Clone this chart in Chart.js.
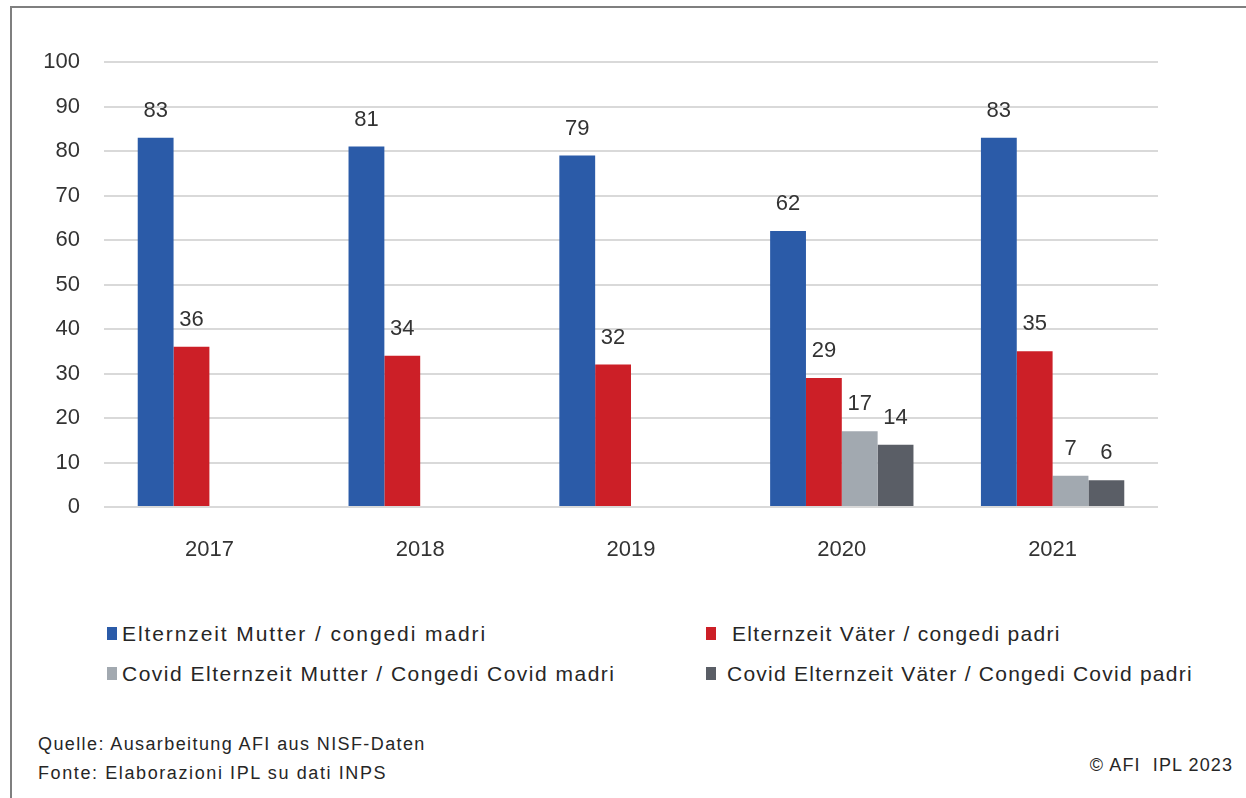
<!DOCTYPE html>
<html>
<head>
<meta charset="utf-8">
<script src="https://cdn.jsdelivr.net/npm/chart.js@4.4.1/dist/chart.umd.min.js"></script>
<style>
  html, body { margin: 0; padding: 0; background: #fff; width: 1246px; height: 798px; overflow: hidden; }
  #frame { position: absolute; left: 10px; top: 6px; width: 1400px; height: 900px; border-left: 2px solid #7f7f7f; border-top: 2px solid #7f7f7f; }
  #chart { position: absolute; left: 0; top: 0; }
  .leg { position: absolute; font-family: "Liberation Sans", Arial, sans-serif; font-size: 21px; color: #262626; white-space: nowrap; line-height: 24px; }
  .box { position: absolute; width: 10px; height: 13px; }
  .foot { position: absolute; font-family: "Liberation Sans", Arial, sans-serif; font-size: 18px; color: #262626; white-space: nowrap; line-height: 22px; }
</style>
</head>
<body>
<div id="frame"></div>
<canvas id="chart" width="1246" height="580"></canvas>

<div class="box" style="left:107px;top:627px;background:#2b5ba8"></div>
<div class="leg" id="l0" style="left:122px;top:622px;letter-spacing:1.9px"></div>
<div class="box" style="left:706px;top:627px;background:#cc1f27"></div>
<div class="leg" id="l1" style="left:732px;top:622px;letter-spacing:1.3px"></div>
<div class="box" style="left:107px;top:667px;background:#a2a9b0"></div>
<div class="leg" id="l2" style="left:122px;top:662px;letter-spacing:1.5px"></div>
<div class="box" style="left:706px;top:667px;background:#5a5e66"></div>
<div class="leg" id="l3" style="left:727px;top:662px;letter-spacing:1.25px"></div>

<div class="foot" style="left:38px;top:733px;letter-spacing:1.4px">Quelle: Ausarbeitung AFI aus NISF-Daten</div>
<div class="foot" style="left:38px;top:762px;letter-spacing:1.6px">Fonte: Elaborazioni IPL su dati INPS</div>
<div class="foot" style="right:13px;top:754px;letter-spacing:1.1px">© AFI&nbsp; IPL 2023</div>

<script>
const categories = ["2017", "2018", "2019", "2020", "2021"];
const seriesNames = [
  "Elternzeit Mutter / congedi madri",
  "Elternzeit Väter / congedi padri",
  "Covid Elternzeit Mutter / Congedi Covid madri",
  "Covid Elternzeit Väter / Congedi Covid padri"
];
const mutter = [83, 81, 79, 62, 83];
const vaeter = [36, 34, 32, 29, 35];
const covidMutter = [null, null, null, 17, 7];
const covidVaeter = [null, null, null, 14, 6];
const yTicks = [0, 10, 20, 30, 40, 50, 60, 70, 80, 90, 100];

const colors = ["#2b5ba8", "#cc1f27", "#a2a9b0", "#5a5e66"];
seriesNames.forEach((n, i) => { document.getElementById("l" + i).textContent = n; });

const FONT = '"Liberation Sans", Arial, sans-serif';

const valueLabels = {
  id: "valueLabels",
  afterDatasetsDraw(chart) {
    const ctx = chart.ctx;
    ctx.save();
    ctx.font = "22px " + FONT;
    ctx.fillStyle = "#333333";
    ctx.textAlign = "center";
    ctx.textBaseline = "middle";
    chart.data.datasets.forEach((ds, i) => {
      const meta = chart.getDatasetMeta(i);
      meta.data.forEach((bar, j) => {
        const v = ds.data[j];
        if (v === null || v === undefined) return;
        ctx.fillText(String(v), bar.x, bar.y - 27);
      });
    });
    ctx.restore();
  }
};

new Chart(document.getElementById("chart"), {
  type: "bar",
  data: {
    labels: categories,
    datasets: [
      { label: seriesNames[0], data: mutter, backgroundColor: colors[0] },
      { label: seriesNames[1], data: vaeter, backgroundColor: colors[1] },
      { label: seriesNames[2], data: covidMutter, backgroundColor: colors[2] },
      { label: seriesNames[3], data: covidVaeter, backgroundColor: colors[3] }
    ]
  },
  options: {
    responsive: false,
    animation: false,
    layout: { padding: { top: 62, right: 88, left: 0, bottom: 0 } },
    datasets: { bar: { categoryPercentage: 0.68, barPercentage: 1.0 } },
    plugins: { legend: { display: false }, tooltip: { enabled: false } },
    scales: {
      x: {
        grid: { display: false },
        border: { display: false },
        ticks: { color: "#333333", font: { family: FONT, size: 22 }, padding: 22 },
        afterFit(s) { s.height = 73; }
      },
      y: {
        min: 0, max: 100,
        afterBuildTicks(s) { s.ticks = yTicks.map(v => ({ value: v })); },
        grid: { color: "#d9d9d9", lineWidth: 2, drawTicks: false },
        border: { display: false },
        ticks: { color: "#333333", font: { family: FONT, size: 22 }, padding: 24 },
        afterFit(s) { s.width = 104; }
      }
    }
  },
  plugins: [valueLabels]
});
</script>
</body>
</html>
